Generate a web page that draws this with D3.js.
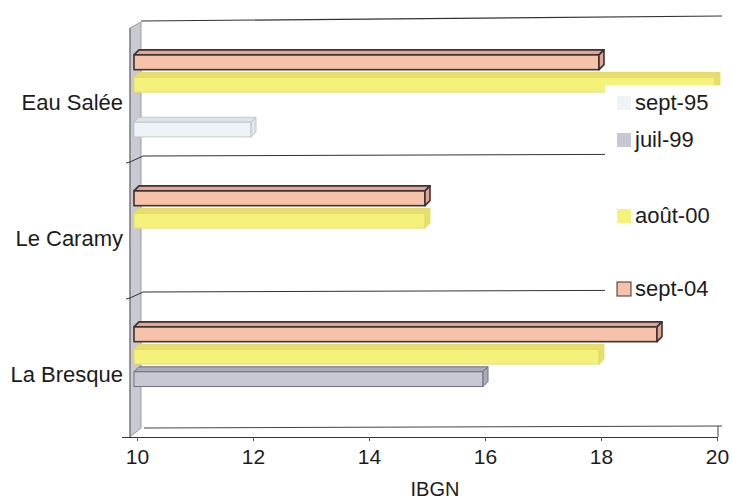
<!DOCTYPE html>
<html>
<head>
<meta charset="utf-8">
<script src="https://cdn.jsdelivr.net/npm/d3@7"></script>
<style>
  html, body { margin: 0; padding: 0; background: #fff; }
  svg { display: block; font-family: Arial, "Liberation Sans", sans-serif; }
</style>
</head>
<body>
<svg id="chart" width="732" height="500"></svg>
<script>
// IBGN scores per river and sampling campaign
const categories = ["Eau Salée", "Le Caramy", "La Bresque"];
const seriesNames = ["sept-95", "juil-99", "août-00", "sept-04"];
const sept95 = [12, null, null];
const juil99 = [null, null, 16];
const aout00 = [20, 15, 18];
const sept04 = [18, 15, 19];
const xTicks = [10, 12, 14, 16, 18, 20];
const axisTitle = "IBGN";

const seriesValues = { "sept-95": sept95, "juil-99": juil99, "août-00": aout00, "sept-04": sept04 };

// fill / top face / outline for each campaign
const palette = {
  "sept-95": { front: "#eef3f8", top: "#dde4ec", stroke: "#b9bec6", sw: 0.8 },
  "juil-99": { front: "#c7c8d4", top: "#a9abb9", stroke: "#6f7080", sw: 1 },
  "août-00": { front: "#f5f27c", top: "#e7df6c", stroke: "#e3d766", sw: 0.8 },
  "sept-04": { front: "#f6c2aa", top: "#e2a690", stroke: "#3a3236", sw: 1.6 }
};

const svg = d3.select("#chart");
const ink = "#1c1c1c";

const x = d3.scaleLinear().domain([10, 20]).range([137, 717]);
const y = d3.scaleBand().domain(categories).range([20, 428]);
const bw = y.bandwidth();
// slots inside a category, top to bottom
const inner = d3.scaleBand()
  .domain(["sept-04", "août-00", "juil-99", "sept-95"])
  .range([bw * 0.22, bw * 0.86])
  .paddingInner(0.12);
const depth = 5;

const floorBack = y.range()[1];
const floorFront = floorBack + 9;
const right = 722;

// left wall
const wallL = x.range()[0] - 7, wallR = x.range()[0] + 4;
svg.append("path")
  .attr("d", `M${wallL},28 L${wallR},22 L${wallR},${floorBack} L${wallL},${floorFront} Z`)
  .attr("fill", "#c9c9d1").attr("stroke", "#9a9aa4").attr("stroke-width", 1);
svg.append("line")
  .attr("x1", wallL).attr("x2", wallL).attr("y1", 28).attr("y2", floorFront)
  .attr("stroke", "#777").attr("stroke-width", 1.2);

// top edge of the back wall
svg.append("line")
  .attr("x1", wallR).attr("x2", right).attr("y1", 21).attr("y2", 16)
  .attr("stroke", "#333").attr("stroke-width", 1.2);

// category separators
categories.slice(1).forEach(c => {
  const yy = y(c);
  svg.append("path")
    .attr("d", `M${wallL - 4},${yy + 7} L${wallL},${yy + 6} L${wallR + 2},${yy} L${right},${yy - 2}`)
    .attr("fill", "none").attr("stroke", "#333").attr("stroke-width", 1);
});

// floor: back edge and front (value axis)
svg.append("line")
  .attr("x1", wallR + 3).attr("x2", right).attr("y1", floorBack).attr("y2", floorBack - 2)
  .attr("stroke", "#444").attr("stroke-width", 1);
const xAxis = svg.append("g").attr("transform", `translate(0,${floorFront})`)
  .call(d3.axisBottom(x).tickValues(xTicks).tickSize(4).tickSizeOuter(0).tickFormat(d3.format("d")));
xAxis.select(".domain").attr("stroke", "#333").attr("stroke-width", 1.1)
  .attr("d", `M${wallL - 8},0.5 H${x(20) + 1}`);
xAxis.selectAll(".tick line").attr("stroke", "#555");
xAxis.selectAll(".tick text").attr("fill", ink).attr("font-size", 21)
  .attr("dy", "0.95em");
svg.append("line")
  .attr("x1", x(20) + 1).attr("x2", x(20) + 1).attr("y1", floorBack - 2).attr("y2", floorFront)
  .attr("stroke", "#444");

svg.append("text").attr("x", 435).attr("y", 496)
  .attr("text-anchor", "middle").attr("font-size", 20).attr("fill", ink).text(axisTitle);

// category labels
svg.selectAll("text.cat").data(categories).join("text")
  .attr("class", "cat")
  .attr("x", 123)
  .attr("y", d => y(d) + bw / 2 + 14)
  .attr("dy", "0.35em")
  .attr("text-anchor", "end").attr("font-size", 22).attr("fill", ink)
  .text(d => d);

// 3-D bars
const bars = [];
seriesNames.forEach(s => {
  seriesValues[s].forEach((v, i) => {
    if (v != null) bars.push({ s, cat: categories[i], v });
  });
});

const g = svg.append("g");
bars.forEach(b => {
  const p = palette[b.s];
  const y0 = y(b.cat) + inner(b.s);
  const h = inner.bandwidth();
  const x0 = x.range()[0] - 3;
  const x1 = x(b.v) - 2;
  const bg = g.append("g");
  bg.append("path")
    .attr("d", `M${x0},${y0 + depth} L${x0 + depth},${y0} L${x1 + depth},${y0} L${x1},${y0 + depth} Z`)
    .attr("fill", p.top).attr("stroke", p.stroke).attr("stroke-width", p.sw).attr("stroke-linejoin", "round");
  bg.append("rect")
    .attr("x", x0).attr("y", y0 + depth).attr("width", x1 - x0).attr("height", h - depth)
    .attr("fill", p.front).attr("stroke", p.stroke).attr("stroke-width", p.sw);
  bg.append("path")
    .attr("d", `M${x1},${y0 + depth} L${x1 + depth},${y0} L${x1 + depth},${y0 + h - depth} L${x1},${y0 + h} Z`)
    .attr("fill", p.top).attr("stroke", p.stroke).attr("stroke-width", p.sw).attr("stroke-linejoin", "round");
});

// legend
const legendRows = [102, 139, 215, 288];
svg.append("rect").attr("x", 605).attr("y", 85).attr("width", 127).attr("height", 214).attr("fill", "#fff");
const lg = svg.append("g");
seriesNames.forEach((s, i) => {
  const p = palette[s];
  const cy = legendRows[i];
  lg.append("rect").attr("x", 617).attr("y", cy - 6).attr("width", 14).attr("height", 14)
    .attr("fill", p.front)
    .attr("stroke", s === "sept-04" ? "#3a3236" : "none").attr("stroke-width", 1);
  lg.append("text").attr("x", 635).attr("y", cy).attr("dy", "0.35em")
    .attr("font-size", 22).attr("fill", ink).text(s);
});
</script>
</body>
</html>
